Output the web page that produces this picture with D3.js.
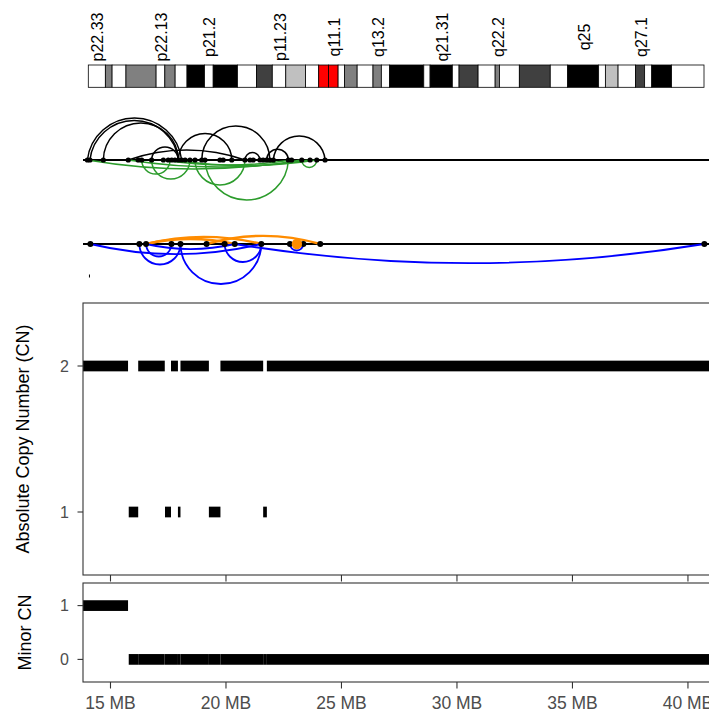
<!DOCTYPE html>
<html><head><meta charset="utf-8">
<script src="https://cdn.jsdelivr.net/npm/d3@7/dist/d3.min.js"></script>
<style>body{margin:0;background:#fff}svg{display:block}</style>
</head><body>
<svg id="chart" width="709" height="714"></svg>
<script>
// ---------------- DATA ----------------
// chrX cytobands (Mb, hg19)
const bandNames = ["p22.33","p22.32","p22.31","p22.2","p22.13","p22.12","p22.11","p21.3","p21.2","p21.1","p11.4","p11.3","p11.23","p11.22","p11.21","p11.1","q11.1","q11.2","q12","q13.1","q13.2","q13.3","q21.1","q21.2","q21.31","q21.32","q21.33","q22.1","q22.2","q22.3","q23","q24","q25","q26.1","q26.2","q26.3","q27.1","q27.2","q27.3","q28"];
const bandStart = [0,4.3,6.0,9.5,17.1,19.3,21.9,24.9,29.3,31.5,37.6,42.4,46.4,49.8,54.8,58.1,60.6,63.0,64.6,67.8,71.8,73.9,76.0,84.6,86.2,91.8,93.5,98.3,102.6,103.7,108.7,116.5,120.9,128.7,130.4,133.6,138.0,140.3,142.1,147.1];
const bandEnd   = [4.3,6.0,9.5,17.1,19.3,21.9,24.9,29.3,31.5,37.6,42.4,46.4,49.8,54.8,58.1,60.6,63.0,64.6,67.8,71.8,73.9,76.0,84.6,86.2,91.8,93.5,98.3,102.6,103.7,108.7,116.5,120.9,128.7,130.4,133.6,138.0,140.3,142.1,147.1,155.27];
const bandStain = ["gneg","gpos50","gneg","gpos50","gneg","gpos50","gneg","gpos100","gneg","gpos100","gneg","gpos75","gneg","gpos25","gneg","acen","acen","gneg","gpos50","gneg","gpos50","gneg","gpos100","gneg","gpos100","gneg","gpos75","gneg","gpos50","gneg","gpos75","gneg","gpos100","gneg","gpos25","gneg","gpos75","gneg","gpos100","gneg"];
const bandLabels = ["p22.33","p22.13","p21.2","p11.23","q11.1","q13.2","q21.31","q22.2","q25","q27.1"];

// copy number segments (Mb)
const segStart = [13.81,15.79,16.20,17.36,17.62,17.92,18.03,19.26,19.76,21.61,21.77];
const segEnd   = [15.76,16.20,17.35,17.62,17.92,18.03,19.26,19.76,21.61,21.77,45.0];
const totalCN  = [2,1,2,1,2,1,2,1,2,1,2];
const minorCN  = [1,0,0,0,0,0,0,0,0,0,0];

// track 1 breakpoints (Mb)
const track1Points = [14.00,14.11,14.69,15.77,16.20,16.35,16.78,17.29,17.50,17.65,17.79,17.94,18.08,18.23,18.44,18.66,18.95,19.09,19.74,19.88,20.25,20.82,21.04,21.18,21.47,21.61,21.76,21.90,22.05,22.70,22.84,23.28,23.64,23.93,24.29];
// black arcs (above)
const blackFrom   = [14.00,14.11,14.69,16.78,17.94,18.95,20.82,21.76,22.05,15.77];
const blackTo     = [18.08,17.94,17.94,17.94,20.25,21.90,21.47,22.70,24.29,20.82];
const blackHeight = [0.84,0.79,0.74,0.26,0.53,0.68,0.15,0.216,0.48,0.20];
// green arcs (below)
const greenFrom   = [16.35,16.78,18.66,19.09,23.28,14.00,15.77,17.29,17.79];
const greenTo     = [17.58,18.44,20.82,22.70,23.93,23.28,23.64,22.84,23.93];
const greenHeight = [0.28,0.38,0.50,0.80,0.15,0.18,0.14,0.10,0.11];

// track 2 breakpoints (Mb)
const track2Points = [14.13,16.25,16.54,17.64,18.03,19.16,19.94,20.38,21.53,22.77,23.35,24.08,40.71];
const track2Highlight = [23.07];
// orange arcs (above)
const orangeFrom   = [16.54,16.54,19.16];
const orangeTo     = [21.53,20.38,24.08];
const orangeHeight = [0.14,0.10,0.16];
// blue arcs (below)
const blueFrom   = [20.38,14.13,16.25,16.54,18.03,19.94,22.77,16.54];
const blueTo     = [40.71,21.53,18.03,17.64,21.53,21.53,23.35,20.38];
const blueHeight = [0.38,0.20,0.41,0.25,0.80,0.36,0.13,0.10];

// track 3 marks
const track3Marks = [14.09];

const xTicks = [15,20,25,30,35,40];
const cnTicks = [1,2];
const minorTicks = [0,1];

// ---------------- DRAW ----------------
const svg = d3.select("#chart");
const FONT = "'Liberation Sans', Arial, Helvetica, sans-serif";
const L = 83, R = 722.6;

const x = d3.scaleLinear().domain([13.81, 41.5]).range([L, R]);
const xIdeo = d3.scaleLinear().domain([0, 155.27]).range([88.3, 704]);

// ideogram
const stainColor = {gneg:"#ffffff",gpos25:"#c0c0c0",gpos50:"#808080",gpos75:"#404040",gpos100:"#000000",acen:"#ff0000"};
const bands = bandNames.map((n,i)=>({name:n,s:bandStart[i],e:bandEnd[i],stain:bandStain[i]}));
svg.append("g").selectAll("rect").data(bands).join("rect")
  .attr("x", d=>xIdeo(d.s)).attr("width", d=>xIdeo(d.e)-xIdeo(d.s))
  .attr("y", 65).attr("height", 22.3)
  .attr("fill", d=>stainColor[d.stain]).attr("stroke","#000").attr("stroke-width",0.8);
svg.append("g").selectAll("text").data(bands.filter(b=>bandLabels.includes(b.name))).join("text")
  .attr("transform", d=>`translate(${xIdeo((d.s+d.e)/2)+1},37) rotate(-90)`)
  .attr("text-anchor","middle").attr("dy","0.35em")
  .attr("font-family",FONT).attr("font-size",16).attr("fill","#000")
  .text(d=>d.name);

// arc helper
function arcPath(x1, x2, y0, h, up){
  const c = (x2-x1)/2; h = Math.min(h, c);
  const r = (c*c + h*h)/(2*h);
  return `M${x1},${y0} A${r},${r} 0 0 ${up?1:0} ${x2},${y0}`;
}
function drawTrack(yScale, arcsUp, arcsDown, points, pr){
  const g = svg.append("g");
  const y0 = yScale(0);
  g.append("line").attr("x1",L).attr("x2",R).attr("y1",y0).attr("y2",y0)
    .attr("stroke","#000").attr("stroke-width",2);
  [arcsUp, arcsDown].forEach((set, k)=>{
    const up = k===0;
    set.from.forEach((f,i)=>{
      const hpx = Math.abs(yScale(set.h[i]) - y0);
      g.append("path").attr("d", arcPath(x(f), x(set.to[i]), y0, hpx, up))
        .attr("fill","none").attr("stroke",set.color).attr("stroke-width",set.w);
    });
  });
  g.selectAll("circle.pt").data(points).join("circle").attr("class","pt")
    .attr("cx",d=>x(d)).attr("cy",y0).attr("r",pr).attr("fill","#000");
  return g;
}
const yT1 = d3.scaleLinear().domain([-1,1]).range([210,110]);
drawTrack(yT1,
  {from:blackFrom,to:blackTo,h:blackHeight,color:"#000",w:1.5},
  {from:greenFrom,to:greenTo,h:greenHeight,color:"#2c9c2c",w:1.5},
  track1Points, 2.6);
const yT2 = d3.scaleLinear().domain([-1,1]).range([294,194]);
const g2 = drawTrack(yT2,
  {from:orangeFrom,to:orangeTo,h:orangeHeight,color:"#ff8c00",w:2.4},
  {from:blueFrom,to:blueTo,h:blueHeight,color:"#0000ff",w:1.8},
  track2Points, 3);
g2.selectAll("circle.hl").data(track2Highlight).join("circle").attr("class","hl")
  .attr("cx",d=>x(d)).attr("cy",yT2(0)).attr("r",5.2).attr("fill","#ff8c00");
const yT3 = d3.scaleLinear().domain([-1,1]).range([281,271]);
svg.append("g").selectAll("line").data(track3Marks).join("line")
  .attr("x1",d=>x(d)).attr("x2",d=>x(d)).attr("y1",yT3(0.3)).attr("y2",yT3(-0.3))
  .attr("stroke","#000").attr("stroke-width",1);

// CN panels
const yCN = d3.scaleLinear().domain([0.5685, 2.4315]).range([575, 303]);
const yMin = d3.scaleLinear().domain([-0.42, 1.42]).range([682, 583]);
const segs = segStart.map((s,i)=>({s, e:segEnd[i], cn:totalCN[i], mn:minorCN[i]}));
const SEGH = 10.7;

function panel(yScale, top, bottom, ticks, valKey, title, titleX){
  const g = svg.append("g");
  g.selectAll("rect.seg").data(segs).join("rect").attr("class","seg")
    .attr("x",d=>x(d.s)).attr("width",d=>x(d.e)-x(d.s))
    .attr("y",d=>yScale(d[valKey])-SEGH/2).attr("height",SEGH).attr("fill","#000");
  g.append("rect").attr("x",L).attr("y",top).attr("width",R+20-L).attr("height",bottom-top)
    .attr("fill","none").attr("stroke","#333").attr("stroke-width",1.1);
  ticks.forEach(t=>{
    g.append("line").attr("x1",77.5).attr("x2",L).attr("y1",yScale(t)).attr("y2",yScale(t))
      .attr("stroke","#333").attr("stroke-width",1.1);
    g.append("text").attr("x",69).attr("y",yScale(t)).attr("dy","0.35em")
      .attr("text-anchor","end").attr("font-family",FONT).attr("font-size",16)
      .attr("fill","#4d4d4d").text(t);
  });
  xTicks.forEach(t=>{
    g.append("line").attr("x1",x(t)).attr("x2",x(t)).attr("y1",bottom).attr("y2",bottom+6.5)
      .attr("stroke","#333").attr("stroke-width",1.1);
  });
  g.append("text").attr("transform",`translate(${titleX},${(top+bottom)/2}) rotate(-90)`)
    .attr("text-anchor","middle").attr("font-family",FONT).attr("font-size",18)
    .attr("fill","#000").text(title);
}
panel(yCN, 303, 575, cnTicks, "cn", "Absolute Copy Number (CN)", 28.5);
panel(yMin, 583, 682, minorTicks, "mn", "Minor CN", 30.5);

svg.append("g").selectAll("text").data(xTicks).join("text")
  .attr("x",d=>x(d)).attr("y",709).attr("text-anchor","middle")
  .attr("font-family",FONT).attr("font-size",17.5).attr("fill","#4d4d4d")
  .text(d=>d+" MB");
</script>
</body></html>
